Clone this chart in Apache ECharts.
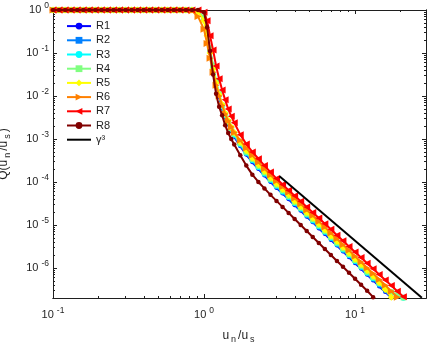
<!DOCTYPE html>
<html><head><meta charset="utf-8">
<script src="https://cdn.jsdelivr.net/npm/echarts@6/dist/echarts.min.js"></script>
<style>html,body{margin:0;padding:0;background:#fff}#c{width:428px;height:343px}</style>
</head><body><div id="c"></div>
<script>
// ---- data ----
const uValues = [0.1, 0.1096, 0.1202, 0.1318, 0.1445, 0.1585, 0.1738, 0.1905, 0.2089, 0.2291, 0.2512, 0.2754, 0.302, 0.3311, 0.3631, 0.3981, 0.4365, 0.4786, 0.5248, 0.5754, 0.631, 0.6918, 0.7586, 0.8318, 0.912,
  1.0, 1.047, 1.096, 1.148, 1.202, 1.259, 1.318, 1.38, 1.445, 1.514, 1.585,
  1.738, 1.905, 2.089, 2.291, 2.512, 2.754, 3.02, 3.311, 3.631, 3.981, 4.365, 4.786, 5.248, 5.754, 6.31, 6.918, 7.586, 8.318, 9.12, 10.0, 10.96, 12.02, 13.18, 14.45, 15.85, 17.38, 19.05, 20.89];

const r1Q = [1,1,1,1,1,1,1,1,1,1,1,1,1,1,1,1,1,1,1,1,1,1,1,
  1, 0.933, 0.631, 0.282, 0.112, 0.0447, 0.0191, 9.55e-3, 5.13e-3, 3.16e-3, 2.14e-3, 1.51e-3, 1.12e-3,
  6.76e-4, 4.27e-4, 2.88e-4, 2.00e-4, 1.41e-4, 1.00e-4, 7.24e-5, 5.37e-5, 3.98e-5, 2.88e-5, 2.14e-5, 1.55e-5, 1.15e-5, 8.32e-6, 6.17e-6, 4.47e-6, 3.31e-6, 2.40e-6, 1.78e-6, 1.29e-6, 9.55e-7, 6.92e-7, 5.13e-7, 3.72e-7, 2.75e-7, 2.04e-7];
const r2Q = [1,1,1,1,1,1,1,1,1,1,1,1,1,1,1,1,1,1,1,1,1,1,1,
  1, 0.933, 0.631, 0.282, 0.112, 0.0447, 0.0200, 0.0100, 5.37e-3, 3.31e-3, 2.24e-3, 1.58e-3, 1.17e-3,
  7.08e-4, 4.47e-4, 3.02e-4, 2.09e-4, 1.48e-4, 1.05e-4, 7.59e-5, 5.62e-5, 4.17e-5, 3.02e-5, 2.24e-5, 1.62e-5, 1.20e-5, 8.71e-6, 6.46e-6, 4.68e-6, 3.47e-6, 2.51e-6, 1.86e-6, 1.35e-6, 1.00e-6, 7.24e-7, 5.37e-7, 3.89e-7, 2.88e-7, 2.09e-7];
const r3Q = [1,1,1,1,1,1,1,1,1,1,1,1,1,1,1,1,1,1,1,1,1,1,1,
  1, 0.933, 0.631, 0.282, 0.117, 0.0479, 0.0214, 0.0107, 5.75e-3, 3.55e-3, 2.40e-3, 1.70e-3, 1.26e-3,
  7.59e-4, 4.79e-4, 3.24e-4, 2.24e-4, 1.58e-4, 1.12e-4, 8.13e-5, 6.03e-5, 4.47e-5, 3.24e-5, 2.40e-5, 1.74e-5, 1.29e-5, 9.33e-6, 6.92e-6, 5.01e-6, 3.72e-6, 2.69e-6, 2.00e-6, 1.45e-6, 1.07e-6, 7.76e-7, 5.75e-7, 4.27e-7, 3.31e-7, 2.69e-7, 2.29e-7, 2.04e-7];
const r4Q = [1,1,1,1,1,1,1,1,1,1,1,1,1,1,1,1,1,1,1,1,1,1,1,
  1, 0.955, 0.661, 0.302, 0.126, 0.0501, 0.0224, 0.0112, 6.03e-3, 3.72e-3, 2.51e-3, 1.78e-3, 1.32e-3,
  7.94e-4, 5.01e-4, 3.39e-4, 2.34e-4, 1.66e-4, 1.17e-4, 8.51e-5, 6.31e-5, 4.68e-5, 3.39e-5, 2.51e-5, 1.82e-5, 1.35e-5, 9.77e-6, 7.24e-6, 5.25e-6, 3.89e-6, 2.82e-6, 2.09e-6, 1.51e-6, 1.12e-6, 8.13e-7, 6.03e-7, 4.47e-7, 3.47e-7, 2.75e-7, 2.34e-7, 2.04e-7];
const r5Q = [1,1,1,1,1,1,1,1,1,1,1,1,1,1,1,1,1,1,1,1,1,1,1,
  1, 0.912, 0.562, 0.251, 0.100, 0.0417, 0.0200, 0.0107, 6.31e-3, 3.98e-3, 2.69e-3, 1.91e-3, 1.41e-3,
  8.51e-4, 5.37e-4, 3.63e-4, 2.51e-4, 1.78e-4, 1.26e-4, 9.12e-5, 6.76e-5, 5.01e-5, 3.63e-5, 2.69e-5, 1.95e-5, 1.45e-5, 1.05e-5, 7.76e-6, 5.62e-6, 4.17e-6, 3.02e-6, 2.24e-6, 1.62e-6, 1.20e-6, 8.71e-7, 6.46e-7, 4.57e-7, 3.16e-7, 2.09e-7];
const r6Q = [1,1,1,1,1,1,1,1,1,1,1,1,1,1,1,1,1,1,1,1,1,1,1,
  0.955, 0.708, 0.355, 0.166, 0.0759, 0.0355, 0.0178, 0.0100, 6.03e-3, 3.80e-3, 2.63e-3, 1.91e-3, 1.41e-3,
  9.33e-4, 6.17e-4, 4.17e-4, 2.88e-4, 2.04e-4, 1.45e-4, 1.05e-4, 7.76e-5, 5.75e-5, 4.17e-5, 3.09e-5, 2.24e-5, 1.66e-5, 1.20e-5, 8.91e-6, 6.46e-6, 4.79e-6, 3.47e-6, 2.57e-6, 1.86e-6, 1.38e-6, 1.00e-6, 7.41e-7, 5.37e-7, 3.98e-7, 2.88e-7, 2.09e-7];
const r7Q = [1,1,1,1,1,1,1,1,1,1,1,1,1,1,1,1,1,1,1,1,1,1,1,
  1, 1, 0.891, 0.562, 0.251, 0.117, 0.0501, 0.0251, 0.0138, 8.13e-3, 5.01e-3, 3.39e-3, 2.40e-3,
  1.26e-3, 7.59e-4, 5.01e-4, 3.47e-4, 2.40e-4, 1.70e-4, 1.20e-4, 8.71e-5, 6.46e-5, 4.79e-5, 3.55e-5, 2.63e-5, 1.95e-5, 1.45e-5, 1.07e-5, 7.94e-6, 5.75e-6, 4.27e-6, 3.16e-6, 2.34e-6, 1.74e-6, 1.29e-6, 9.55e-7, 7.08e-7, 5.25e-7, 3.89e-7, 2.88e-7, 2.14e-7];
const r8Q = [1,1,1,1,1,1,1,1,1,1,1,1,1,1,1,1,1,1,1,1,1,1,1,1,1,
  0.891, 0.398, 0.112, 0.0316, 0.0112, 5.62e-3, 3.55e-3, 2.09e-3, 1.38e-3, 1.00e-3, 7.41e-4,
  4.17e-4, 2.40e-4, 1.48e-4, 1.00e-4, 7.08e-5, 5.01e-5, 3.63e-5, 2.63e-5, 1.91e-5, 1.38e-5, 1.00e-5, 7.24e-6, 5.25e-6, 3.80e-6, 2.75e-6, 2.00e-6, 1.45e-6, 1.07e-6, 7.76e-7, 5.62e-7, 4.07e-7, 2.95e-7, 2.09e-7];

const gammaU = [3.16, 27.7];
const gammaQ = [1.36e-4, 2.02e-7];

const seriesNames = ['R1', 'R2', 'R3', 'R4', 'R5', 'R6', 'R7', 'R8'];
const gammaName = 'γ³';
const xMajorTicks = [0.1, 1, 10];
const yMajorTicks = [1e-6, 1e-5, 1e-4, 1e-3, 1e-2, 1e-1, 1];

// ---- styles ----
const colors = ['#0000ff', '#0080ff', '#00ffff', '#80ff80', '#ffff00', '#ff8000', '#ff0000', '#800000'];
const symbols = ['circle', 'rect', 'circle', 'rect', 'diamond', 'triangle', 'triangle', 'circle'];
const symbolSizes = [4, 4, 6, 5.5, 7, 7, 7, 4.5];
const symbolRotates = [0, 0, 0, 0, 0, -90, 90, 0];
const X_MIN = 0.1, X_MAX = 29.5, Y_MIN = 2.0e-7, Y_MAX = 1;
const axisColor = '#1f1f1f';
const FONT = 'Liberation Sans';

function minorTicks(lo, hi) {
  const out = [];
  for (let e = Math.floor(Math.log10(lo)) - 1; e <= Math.ceil(Math.log10(hi)); e++) {
    for (let m = 2; m <= 9; m++) {
      const v = +(m * Math.pow(10, e)).toPrecision(3);
      if (v > lo * 1.0001 && v < hi * 0.9999) out.push(v);
    }
  }
  return out;
}
const xMinorTicks = minorTicks(X_MIN, X_MAX);
const yMinorTicks = minorTicks(Y_MIN, Y_MAX);

const labelRich = {
  b: { fontSize: 11, fontFamily: FONT, color: axisColor },
  s: { fontSize: 8.5, fontFamily: FONT, color: axisColor, padding: [0, 0, 8, 3] }
};
function powLabel(v) {
  const e = Math.round(Math.log10(v));
  return '{b|10}{s|' + e + '}';
}

function makeAxis(dim, position, ticks, len, opts) {
  const isX = dim === 'x';
  return Object.assign({
    type: 'log', logBase: 10,
    min: isX ? X_MIN : Y_MIN, max: isX ? X_MAX : Y_MAX,
    position: position,
    axisLine: { show: true, onZero: false, lineStyle: { color: axisColor, width: 1 } },
    axisTick: { show: true, inside: true, length: len, customValues: ticks, lineStyle: { color: axisColor, width: 1 } },
    axisLabel: { show: false, customValues: ticks },
    splitLine: { show: false },
    minorTick: { show: false },
    minorSplitLine: { show: false },
    axisPointer: { show: false },
    silent: true
  }, opts || {});
}

const nameRich = {
  a: { fontSize: 12, fontFamily: FONT, color: axisColor },
  s: { fontSize: 9, fontFamily: FONT, color: axisColor, padding: [7, 2, 0, 2] }
};

const xAxes = [
  makeAxis('x', 'bottom', xMajorTicks, 4, {
    axisLabel: { show: true, customValues: xMajorTicks, formatter: powLabel, rich: labelRich, margin: 8 },
    name: '{a|u}{s|n}{a|/u}{s|s}', nameLocation: 'middle', nameGap: 30, nameMoveOverlap: false,
    nameTextStyle: { rich: nameRich }
  }),
  makeAxis('x', 'bottom', xMinorTicks, 2),
  makeAxis('x', 'top', xMajorTicks, 4),
  makeAxis('x', 'top', xMinorTicks, 2)
];
const yAxes = [
  makeAxis('y', 'left', yMajorTicks, 4, {
    axisLabel: { show: true, customValues: yMajorTicks, formatter: powLabel, rich: labelRich, margin: 4 },
    name: '{a|Q(u}{s|n}{a|/u}{s|s}{a|)}', nameLocation: 'middle', nameGap: 41, nameMoveOverlap: false,
    nameTextStyle: { rich: nameRich }
  }),
  makeAxis('y', 'left', yMinorTicks, 2),
  makeAxis('y', 'right', yMajorTicks, 4),
  makeAxis('y', 'right', yMinorTicks, 2)
];

const qLists = [r1Q, r2Q, r3Q, r4Q, r5Q, r6Q, r7Q, r8Q];
const series = qLists.map((q, i) => ({
  name: seriesNames[i], type: 'line', xAxisIndex: 0, yAxisIndex: 0,
  data: q.map((v, j) => [uValues[j], v]),
  symbol: symbols[i], symbolSize: symbolSizes[i], symbolRotate: symbolRotates[i],
  showAllSymbol: true,
  lineStyle: { width: 2, color: colors[i] },
  itemStyle: { color: colors[i] },
  emphasis: { disabled: true },
  z: 2 + i
}));
series.push({
  name: gammaName, type: 'line', xAxisIndex: 0, yAxisIndex: 0,
  data: gammaU.map((u, j) => [u, gammaQ[j]]),
  symbol: 'none',
  lineStyle: { width: 2, color: '#000000' },
  itemStyle: { color: '#000000' },
  emphasis: { disabled: true },
  z: 12
});

const legendData = seriesNames.map(n => ({ name: n }));
legendData.push({ name: gammaName, itemStyle: { color: 'rgba(0,0,0,0)', borderWidth: 0 } });

const chart = echarts.init(document.getElementById('c'), null, { renderer: 'canvas' });
chart.setOption({
  animation: false,
  backgroundColor: '#ffffff',
  textStyle: { fontFamily: FONT },
  grid: { left: 53, right: 2, top: 10, bottom: 45, containLabel: false, outerBoundsMode: 'none' },
  legend: {
    orient: 'vertical', left: 66, top: 19, padding: 0,
    itemWidth: 24, itemHeight: 8.5, itemGap: 0,
    selectedMode: false,
    textStyle: { fontSize: 11, color: axisColor, lineHeight: 14.2, fontFamily: FONT },
    data: legendData
  },
  xAxis: xAxes,
  yAxis: yAxes,
  series: series
});
</script>
</body></html>
